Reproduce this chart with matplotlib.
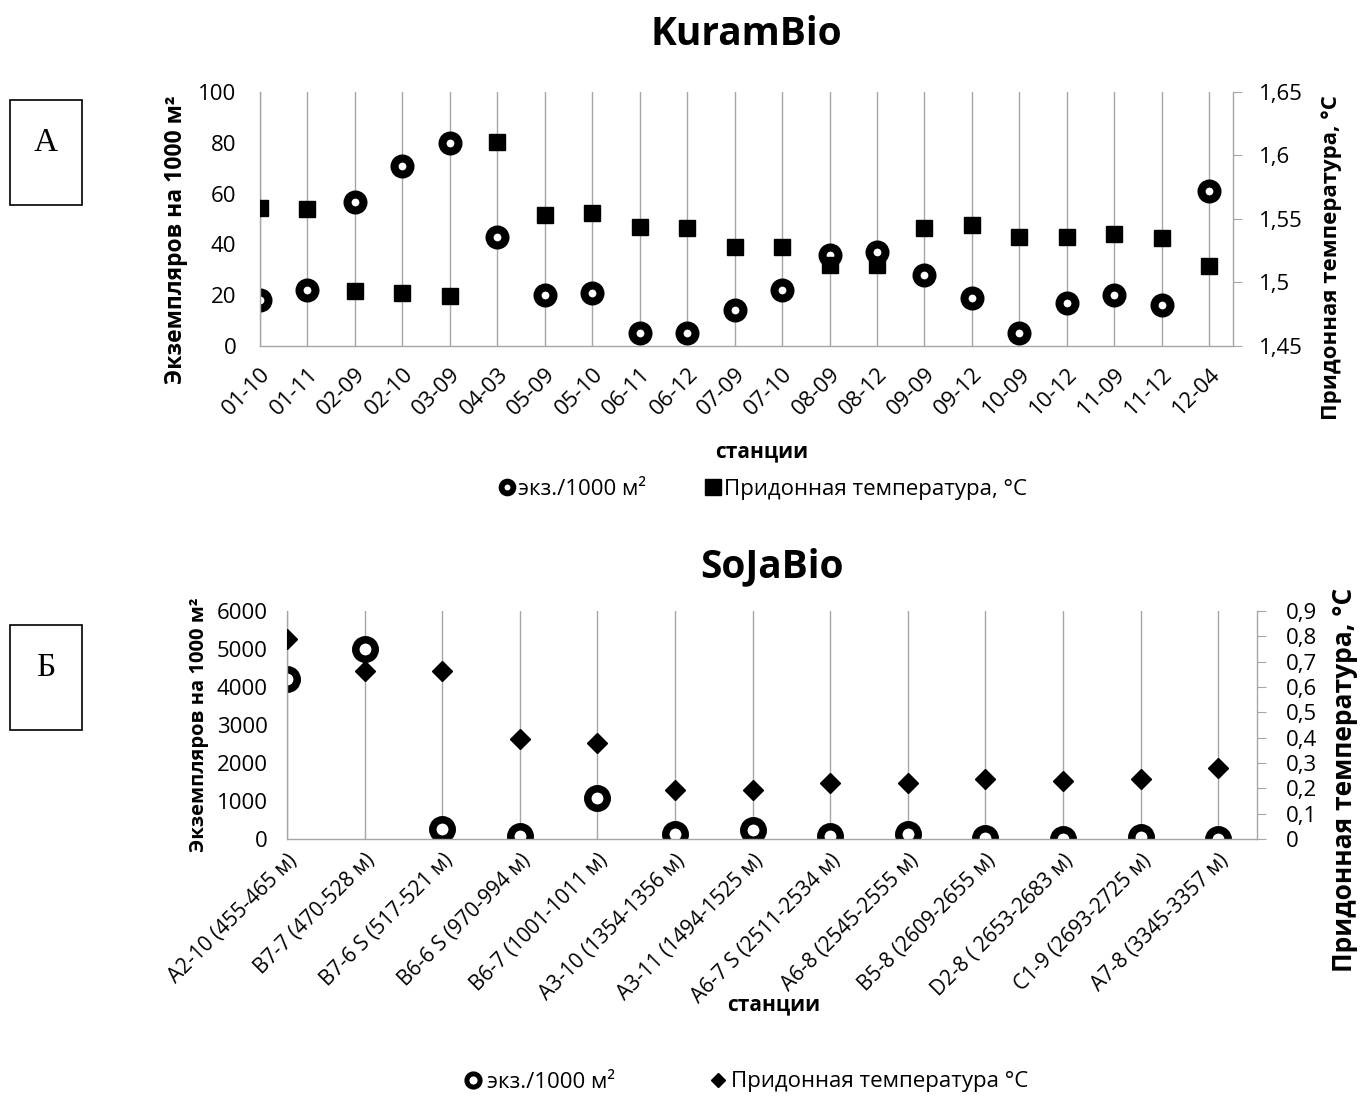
import numpy as np
import matplotlib as mpl
mpl.use("Agg")
import matplotlib.pyplot as plt
from matplotlib.ticker import FuncFormatter, MultipleLocator
from matplotlib.lines import Line2D
from matplotlib.patches import Rectangle

plt.rcParams['font.family'] = ['Open Sans', 'DejaVu Sans']

# KuramBio data
kb_stations = ['01-10', '01-11', '02-09', '02-10', '03-09', '04-03', '05-09', '05-10',
               '06-11', '06-12', '07-09', '07-10', '08-09', '08-12', '09-09', '09-12',
               '10-09', '10-12', '11-09', '11-12', '12-04']
kb_abund = [18, 22, 56.7, 71, 80, 43, 20, 21, 5, 5, 14, 22, 36, 37, 28, 19, 5, 17, 20, 16, 61]
kb_temp = [1.559, 1.558, 1.493, 1.492, 1.489, 1.611, 1.553, 1.555, 1.544, 1.543, 1.528, 1.528,
           1.514, 1.514, 1.543, 1.545, 1.536, 1.536, 1.538, 1.535, 1.513]

# SoJaBio data
sj_stations = ['A2-10 (455-465 м)', 'B7-7 (470-528 м)', 'B7-6 S (517-521 м)', 'B6-6 S (970-994 м)',
               'B6-7 (1001-1011 м)', 'A3-10 (1354-1356 м)', 'A3-11 (1494-1525 м)',
               'A6-7 S (2511-2534 м)', 'A6-8 (2545-2555 м)', 'B5-8 (2609-2655 м)',
               'D2-8 ( 2653-2683 м)', 'C1-9 (2693-2725 м)', 'A7-8 (3345-3357 м)']
sj_abund = [4200, 4990, 260, 90, 1075, 140, 250, 70, 130, 25, 5, 40, 5]
sj_temp = [0.791, 0.664, 0.664, 0.394, 0.378, 0.194, 0.194, 0.223, 0.223, 0.238, 0.230, 0.238, 0.280]

GRID = '#A6A6A6'


def comma(x, pos):
    return f'{round(x, 2):g}'.replace('.', ',')


def style_axes(ax, ax2, n, fs):
    ax.set_xlim(0, n - 0.5)
    ax.set_xticks(np.arange(n))
    ax.grid(axis='x', color=GRID, linewidth=1)
    ax.set_axisbelow(True)
    for s in ['top', 'right']:
        ax.spines[s].set_visible(False)
    for s in ['left', 'bottom']:
        ax.spines[s].set_color(GRID)
        ax.spines[s].set_linewidth(1)
    ax.tick_params(axis='y', length=0, labelsize=fs, pad=17)
    ax.tick_params(axis='x', length=0, labelsize=fs, pad=13)
    for s in ['top', 'left', 'bottom']:
        ax2.spines[s].set_visible(False)
    ax2.spines['right'].set_color(GRID)
    ax2.spines['right'].set_linewidth(1)
    ax2.tick_params(axis='y', length=6.5, color=GRID, labelsize=fs, pad=12)
    ax2.yaxis.set_major_formatter(FuncFormatter(comma))


fig = plt.figure(figsize=(13.6, 11.19), dpi=100)

# ---- KuramBio ----
ax = fig.add_axes([260 / 1360, 1 - 346 / 1119, 973 / 1360, 254 / 1119])
ax2 = ax.twinx()
x = np.arange(len(kb_stations))
ax.plot(x, kb_abund, 'o', ms=11.5, mfc='white', mec='black', mew=5.8, ls='none')
ax2.plot(x, kb_temp, 's', ms=12, color='black', ls='none')
ax.set_ylim(0, 100)
ax.yaxis.set_major_locator(MultipleLocator(20))
ax2.set_ylim(1.45, 1.65)
ax2.yaxis.set_major_locator(MultipleLocator(0.05))
style_axes(ax, ax2, len(kb_stations), 16)
ax.set_xticklabels(kb_stations, rotation=45, ha='right', va='top', rotation_mode='anchor')
ax.set_ylabel('Экземпляров на 1000 м²', fontsize=16.5, fontweight='bold')
ax.yaxis.set_label_coords(-72 / 973, 0.42)
ax2.set_ylabel('Придонная температура, °C', fontsize=16, fontweight='bold')
ax2.yaxis.set_label_coords(1 + 88 / 973, 0.35)
ax.set_xlabel('станции', fontsize=15, fontweight='bold')
ax.xaxis.set_label_coords((762 - 260) / 973, -(441 - 346) / 254)
ax.set_title('KuramBio', fontsize=28, fontweight='bold', pad=34)

h1 = [Line2D([], [], marker='o', ms=8.5, mfc='white', mec='black', mew=4.2, ls='none'),
      Line2D([], [], marker='s', ms=12, color='black', ls='none')]
fig.legend(h1, ['экз./1000 м²', 'Придонная температура, °C'], loc='center',
           bbox_to_anchor=(762 / 1360, 1 - 489 / 1119), ncol=2, frameon=False,
           fontsize=16, handletextpad=0.05, columnspacing=2.6, handlelength=0.9)

# ---- SoJaBio ----
bx = fig.add_axes([287 / 1360, 1 - 839 / 1119, 970 / 1360, 228 / 1119])
bx2 = bx.twinx()
x = np.arange(len(sj_stations))
bx.plot(x, sj_abund, 'o', ms=14, mfc='white', mec='black', mew=5.4, ls='none')
bx2.plot(x, sj_temp, 'D', ms=10.5, color='black', ls='none')
bx.set_ylim(0, 6000)
bx.yaxis.set_major_locator(MultipleLocator(1000))
bx2.set_ylim(0, 0.9)
bx2.yaxis.set_major_locator(MultipleLocator(0.1))
style_axes(bx, bx2, len(sj_stations), 16)
bx.tick_params(axis='y', pad=14)
bx2.tick_params(axis='y', pad=14)
bx.tick_params(axis='x', labelsize=15, pad=8)
bx.set_xticklabels(sj_stations, rotation=45, ha='right', va='top', rotation_mode='anchor')
bx.set_ylabel('Экземпляров на 1000 м²', fontsize=14.5, fontweight='bold')
bx.yaxis.set_label_coords(-78 / 970, 0.5)
bx2.set_ylabel('Придонная температура, °C', fontsize=19, fontweight='bold')
bx2.yaxis.set_label_coords(1 + 74 / 970, 0.26)
bx.set_xlabel('станции', fontsize=15, fontweight='bold')
bx.xaxis.set_label_coords((774 - 287) / 970, -(994 - 839) / 228)
bx.set_title('SoJaBio', fontsize=28, fontweight='bold', pad=24)

h2 = [Line2D([], [], marker='o', ms=9.5, mfc='white', mec='black', mew=3.6, ls='none'),
      Line2D([], [], marker='D', ms=7.5, color='black', ls='none')]
fig.legend(h2, ['экз./1000 м²', 'Придонная температура °C'], loc='center',
           bbox_to_anchor=(746 / 1360, 1 - 1082 / 1119), ncol=2, frameon=False,
           fontsize=16, handletextpad=0.15, columnspacing=4.2, handlelength=0.9)

# ---- panel letters ----
for letter, top in [('А', 100), ('Б', 625)]:
    fig.add_artist(Rectangle((10 / 1360, 1 - (top + 105) / 1119), 72 / 1360, 105 / 1119,
                             transform=fig.transFigure, fill=False, ec='black', lw=1.2))
    fig.text(46 / 1360, 1 - (top + 43) / 1119, letter, ha='center', va='center',
             fontsize=24, family='Liberation Serif')

fig.savefig('out.png', dpi=100)
